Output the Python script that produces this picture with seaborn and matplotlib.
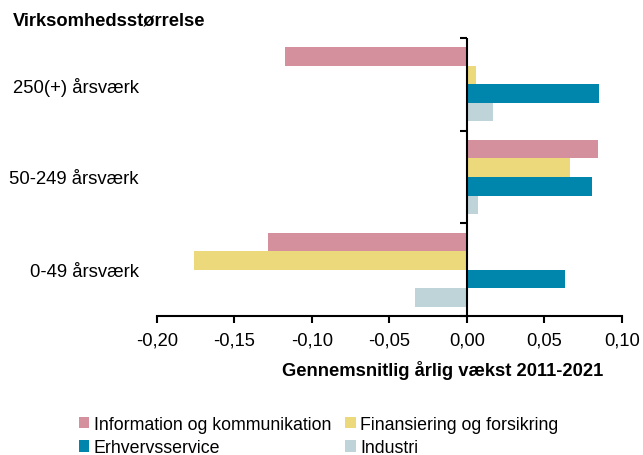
import matplotlib
matplotlib.use("Agg")
import matplotlib.pyplot as plt
import seaborn as sns
import pandas as pd
from matplotlib.patches import Patch
from matplotlib.ticker import FuncFormatter

categories = ["250(+) årsværk", "50-249 årsværk", "0-49 årsværk"]
series = ["Information og kommunikation", "Finansiering og forsikring", "Erhvervsservice", "Industri"]
info = [-0.117, 0.0847, -0.128]
fin = [0.0058, 0.0665, -0.176]
erhv = [0.0854, 0.0811, 0.0634]
industri = [0.0168, 0.0071, -0.0333]
colors = ["#d4919d", "#ecd97c", "#0085ad", "#bfd4d9"]
xticks = [-0.20, -0.15, -0.10, -0.05, 0.00, 0.05, 0.10]

rows = []
for s, vals in zip(series, [info, fin, erhv, industri]):
    for c, v in zip(categories, vals):
        rows.append({"cat": c, "series": s, "value": v})
df = pd.DataFrame(rows)

sns.set_theme(style="white")
plt.rcParams["font.family"] = ["Liberation Sans", "DejaVu Sans"]

fig = plt.figure(figsize=(6.43, 4.56), dpi=100)
ax = fig.add_axes([0.2437, 0.3048, 0.7232, 0.6097])
sns.barplot(data=df, y="cat", x="value", hue="series", order=categories,
            hue_order=series, palette=colors, saturation=1, orient="h", width=0.8,
            edgecolor="none", linewidth=0, ax=ax, legend=False)

ax.set_xlim(-0.2, 0.1)
ax.set_ylim(2.5, -0.5)
ax.set_xticks(xticks)
ax.xaxis.set_major_formatter(FuncFormatter(lambda v, p: f"{v:.2f}".replace(".", ",").replace("-0,00", "0,00")))
ax.tick_params(axis="x", direction="out", length=5, width=1.5, color="black",
               labelsize=13.2, pad=6, bottom=True, labelcolor="black")
ax.tick_params(axis="y", length=0, labelsize=13.3, pad=13, labelcolor="black")
ax.set_xlabel("")
ax.set_ylabel("")
for sp in ["top", "right", "left"]:
    ax.spines[sp].set_visible(False)
ax.spines["bottom"].set_color("black")
ax.spines["bottom"].set_linewidth(1.5)

ax.axvline(0, color="black", linewidth=1.5, zorder=5)
sec = ax.secondary_yaxis(2/3)
sec.set_yticks([-0.5, 0.5, 1.5, 2.5])
sec.set_yticklabels([])
sec.yaxis.set_ticks_position("left")
sec.tick_params(direction="out", length=5, width=1.5, color="black")
for sp in sec.spines.values():
    sp.set_visible(False)

fig.text(13/643, 1 - 21/456, "Virksomhedsstørrelse", fontsize=13.2, fontweight="bold",
         ha="left", va="center", color="black")
fig.text(603/643, 1 - 371/456, "Gennemsnitlig årlig vækst 2011-2021", fontsize=13.2,
         fontweight="bold", ha="right", va="center", color="black")

handles = [Patch(facecolor=c, edgecolor="none") for c in colors]
order = [0, 2, 1, 3]
fig.legend([handles[i] for i in order], [series[i] for i in order], ncol=2,
           loc="upper left", bbox_to_anchor=(75/643, 1 - 413/456), frameon=False,
           fontsize=12.75, handlelength=0.6, handleheight=0.6, handletextpad=0.25,
           labelspacing=0.38, columnspacing=0.8, borderaxespad=0.0, borderpad=0.2,
           labelcolor="black")

fig.savefig("out.png", dpi=100)
